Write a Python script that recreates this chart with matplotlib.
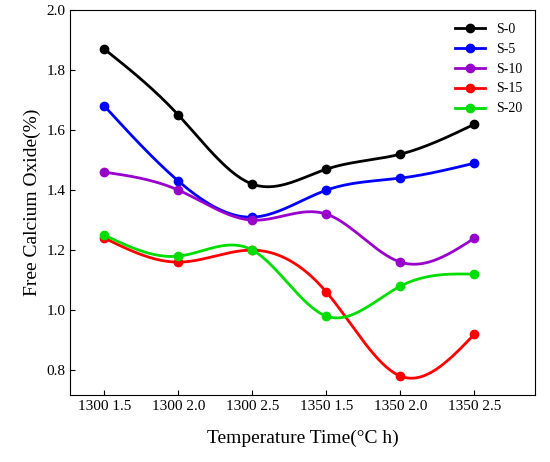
import numpy as np
import matplotlib
matplotlib.use("Agg")
import matplotlib.pyplot as plt

plt.rcParams['font.family'] = ['Liberation Serif']

categories = ["1300 1.5", "1300 2.0", "1300 2.5", "1350 1.5", "1350 2.0", "1350 2.5"]
s0 = [1.87, 1.65, 1.42, 1.47, 1.52, 1.62]
s5 = [1.68, 1.43, 1.31, 1.40, 1.44, 1.49]
s10 = [1.46, 1.40, 1.30, 1.32, 1.16, 1.24]
s15 = [1.24, 1.16, 1.20, 1.06, 0.78, 0.92]
s20 = [1.25, 1.18, 1.20, 0.98, 1.08, 1.12]
names = ["S-0", "S-5", "S-10", "S-15", "S-20"]
colors = ["black", "#0000ff", "#9900cc", "#ff0000", "#00dd00"]

def spline(x, y, n=300):
    x = np.asarray(x, float); y = np.asarray(y, float)
    m = len(x); h = np.diff(x)
    A = np.zeros((m, m)); b = np.zeros(m)
    A[0, 0] = A[-1, -1] = 1
    for i in range(1, m - 1):
        A[i, i-1] = h[i-1]; A[i, i] = 2*(h[i-1]+h[i]); A[i, i+1] = h[i]
        b[i] = 6*((y[i+1]-y[i])/h[i] - (y[i]-y[i-1])/h[i-1])
    M = np.linalg.solve(A, b)
    xs = np.linspace(x[0], x[-1], n); ys = np.empty(n)
    for k, t in enumerate(xs):
        i = min(np.searchsorted(x, t, side='right') - 1, m - 2)
        a = x[i+1]-t; c = t-x[i]; hi = h[i]
        ys[k] = (M[i]*a**3 + M[i+1]*c**3)/(6*hi) + (y[i]/hi - M[i]*hi/6)*a + (y[i+1]/hi - M[i+1]*hi/6)*c
    return xs, ys

fig, ax = plt.subplots(figsize=(5.5, 4.62), dpi=100)
fig.subplots_adjust(left=0.128, right=0.973, top=0.978, bottom=0.145)
x = np.arange(len(categories))
for data, nm, c in zip([s0, s5, s10, s15, s20], names, colors):
    xs, ys = spline(x, data)
    ax.plot(xs, ys, color=c, lw=2, label=nm, marker=None)
    ax.plot(x, data, 'o', color=c, ms=6)
h = [plt.Line2D([], [], color=c, lw=2, marker='o', ms=6) for c in colors]
ax.legend(h, names, loc='upper right', frameon=False, fontsize=10, handlelength=2.2)
ax.set_xticks(x)
ax.set_xticklabels(categories, fontsize=11)
ax.set_xlim(-0.46, 5.82)
ax.set_ylim(0.717, 2.0)
ax.set_yticks(np.arange(0.8, 2.01, 0.2))
ax.set_yticklabels([f"{v:.1f}" for v in np.arange(0.8, 2.01, 0.2)], fontsize=11)
ax.tick_params(direction='in')
ax.set_xlabel("Temperature Time(\u00b0C h)", fontsize=14, labelpad=12)
ax.set_ylabel("Free Calcium Oxide(%)", fontsize=14)
fig.savefig("out.png", dpi=100)
